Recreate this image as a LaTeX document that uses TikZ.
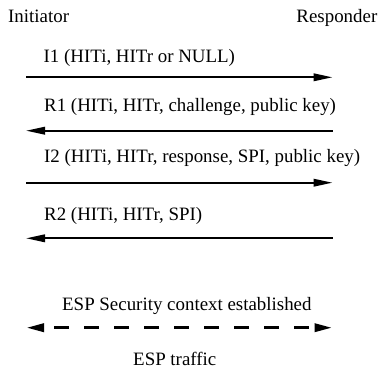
\documentclass[tikz,border=0pt]{standalone}
\usepackage{fontspec}
\setmainfont{Liberation Serif}
\usetikzlibrary{arrows.meta,positioning}

\tikzstyle{party} = [inner sep=0pt]
\tikzstyle{msg} = [inner sep=0pt, anchor=base west]
\tikzstyle{line} = [draw, line width=2pt, -{Triangle[length=19pt,width=7.5pt]}]
\tikzstyle{tunnel} = [draw, line width=3.3pt, dash pattern=on 15pt off 15pt, dash phase=19pt,
    {Triangle[length=18pt,width=8pt]}-{Triangle[length=18pt,width=8pt]}]

\begin{document}
\begin{tikzpicture}[x=1pt, y=-1pt, font=\fontsize{18.9}{22}\selectfont]
    \useasboundingbox (0,0) rectangle (379,372);
    % Place nodes

    \node [party, anchor=base west] (init) at (8,22.7) {Initiator};
    \node [party, anchor=base east] (resp) at (377.5,22.7) {Responder};

    \node [msg] (i1) at (43.5,62.5) {I1 (HITi, HITr or NULL)};
    \node [msg] (r1) at (44,111) {R1 (HITi, HITr, challenge, public key)};
    \node [msg] (i2) at (44,162) {I2 (HITi, HITr, response, SPI, public key)};
    \node [msg] (r2) at (44,220) {R2 (HITi, HITr, SPI)};

    \node [msg] (esp) at (62,310) {ESP Security context established};
    \node [msg] (traffic) at (133,365.5) {ESP traffic};

    % message ends
    \coordinate (ini1) at (26,77.3);   \coordinate (res1) at (332.5,77.3);
    \coordinate (ini2) at (26,130.7);  \coordinate (res2) at (332.5,130.7);
    \coordinate (ini3) at (26,182.7);  \coordinate (res3) at (332.5,182.7);
    \coordinate (ini4) at (26,238.3);  \coordinate (res4) at (332.5,238.3);
    \coordinate (ini5) at (26,327.7);  \coordinate (res5) at (332.5,327.7);

    % Draw edges
    \path [line] (ini1) -- (res1);
    \path [line] (res2) -- (ini2);
    \path [line] (ini3) -- (res3);
    \path [line] (res4) -- (ini4);
    \path [tunnel] (ini5) -- (res5);

\end{tikzpicture}
\end{document}
